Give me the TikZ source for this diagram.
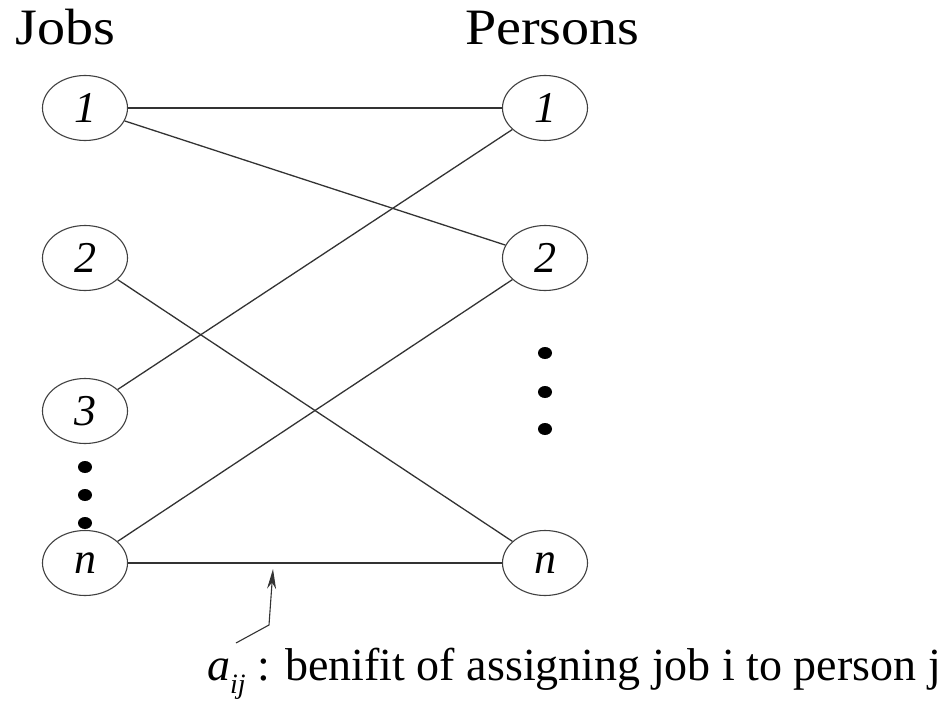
\documentclass[tikz,border=0pt]{standalone}
\usepackage{fontspec}
\usepackage{graphicx}
\setmainfont{Liberation Serif}
\usetikzlibrary{shapes.geometric,arrows.meta}
\tikzset{
  vtx/.style={ellipse, draw=black!75, line width=1.1pt, minimum width=85pt, minimum height=65pt, inner sep=0pt, font=\fontsize{44}{48}\selectfont\itshape},
  edge/.style={draw=black!80, line width=1.3pt},
  dotmark/.style={ellipse, fill=black, minimum width=14pt, minimum height=12pt, inner sep=0pt},
  head/.style={font=\fontsize{51}{56}\selectfont, inner sep=0pt, anchor=base west},
}
\begin{document}
\begin{tikzpicture}[x=1pt,y=-1pt]
\useasboundingbox (0,0) rectangle (943,704);
\node[head] (jobs) at (15,44) {\scalebox{1.1}[1]{Jobs}};
\node[head] (persons) at (465,44) {\scalebox{1.1}[1]{Persons}};
\node[vtx] (j1) at (85,108) {1};
\node[vtx] (j2) at (85,258) {2};
\node[vtx] (j3) at (85,411) {3};
\node[vtx] (jn) at (85,563) {n};
\node[vtx] (p1) at (545,108) {1};
\node[vtx] (p2) at (545,258) {2};
\node[vtx] (pn) at (545,563) {n};
\node[dotmark] (ld1) at (85,467) {};
\node[dotmark] (ld2) at (85,495) {};
\node[dotmark] (ld3) at (85,523) {};
\node[dotmark] (rd1) at (545,353) {};
\node[dotmark] (rd2) at (545,392) {};
\node[dotmark] (rd3) at (545,429) {};
\draw[edge] (j1) -- (p1);
\draw[edge] (j1) -- (p2);
\draw[edge] (j2) -- (pn);
\draw[edge] (j3) -- (p1);
\draw[edge] (jn) -- (p2);
\draw[edge] (jn) -- (pn);
\coordinate (a0) at (236,643);
\coordinate (a1) at (269,625);
\coordinate (a2) at (273,569);
\draw[edge, line width=1.1pt, -{Stealth[length=20pt,width=9pt]}] (a0) -- (a1) -- (a2);
\node[anchor=base west, font=\fontsize{46}{50}\selectfont, inner sep=0pt] (lbl) at (207,680)
  {{\itshape a}\raisebox{-0.3em}{\fontsize{28}{30}\selectfont\itshape ij} : benifit of assigning job i to person j};
\end{tikzpicture}
\end{document}
